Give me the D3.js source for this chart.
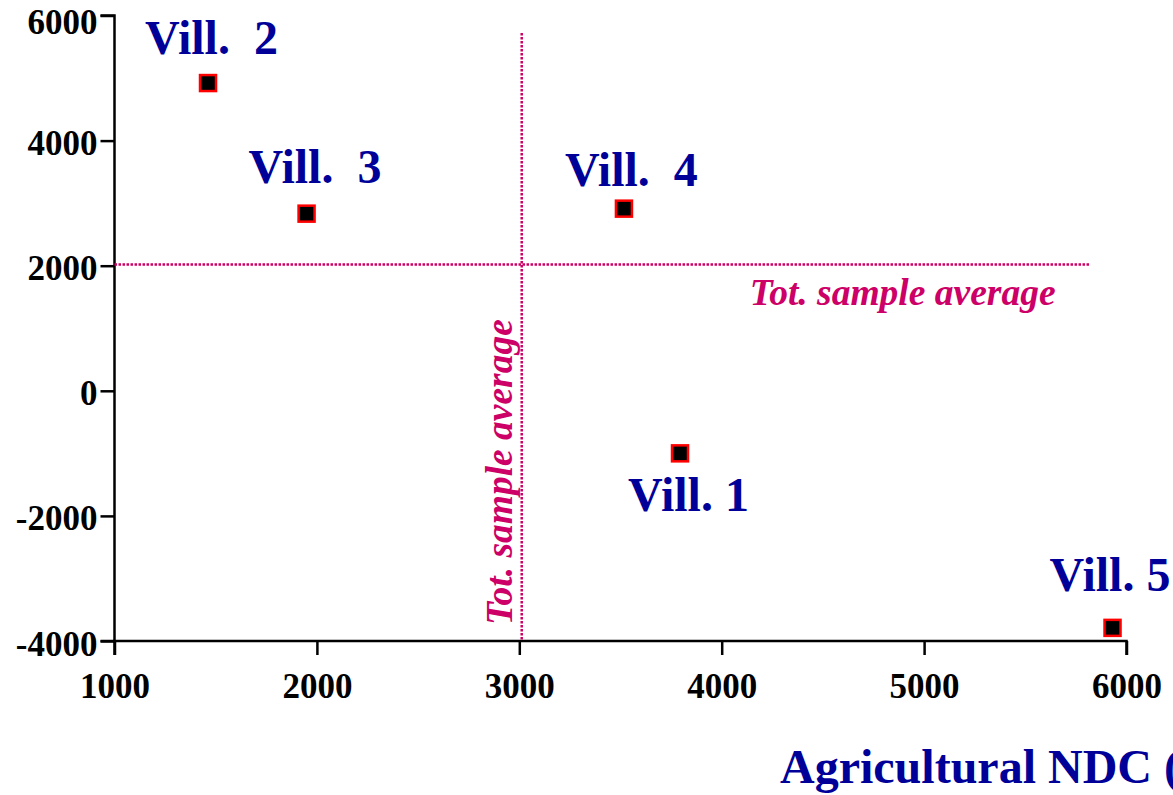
<!DOCTYPE html>
<html>
<head>
<meta charset="utf-8">
<script src="https://cdn.jsdelivr.net/npm/d3@7"></script>
<style>
  html, body { margin: 0; padding: 0; background: #fff; overflow: hidden; }
  svg { display: block; font-family: "Liberation Serif", "Times New Roman", serif; }
</style>
</head>
<body>
<svg id="chart" width="1173" height="795"></svg>
<script>
// Villages: agricultural NDC (x) against second indicator (y)
const villages = ["Vill. 1", "Vill.  2", "Vill.  3", "Vill.  4", "Vill. 5"];
const ndcValues = [3794, 1462, 1949, 3517, 5931];
const yValues = [-1000, 4920, 2832, 2912, -3790];

// Label offsets (px) relative to each marker
const labelDx = [-52, -63, -58, -59, -63];
const labelDy = [58, -29, -31, -23, -37];

// Total sample averages
const avgX = 3012;
const avgY = 2020;
const avgLabel = "Tot. sample average";

const xTicks = [1000, 2000, 3000, 4000, 5000, 6000];
const yTicks = [-4000, -2000, 0, 2000, 4000, 6000];
const xTitle = "Agricultural NDC (€)";

const svg = d3.select("#chart");
const x = d3.scaleLinear().domain([1000, 6000]).range([114.5, 1126.5]);
const y = d3.scaleLinear().domain([-4000, 6000]).range([641, 15.5]);

const blue = "#000099";
const magenta = "#cc0066";
const fmt = d => String(d); // plain hyphen for negatives

// Axes
const xAxis = svg.append("g")
  .attr("transform", `translate(0,${y(-4000)})`)
  .call(d3.axisBottom(x).tickValues(xTicks).tickFormat(fmt).tickSize(14).tickPadding(11));
const yAxis = svg.append("g")
  .attr("transform", `translate(${x(1000)},0)`)
  .call(d3.axisLeft(y).tickValues(yTicks).tickFormat(fmt).tickSize(14).tickPadding(3));

[xAxis, yAxis].forEach(g => {
  g.select(".domain").attr("stroke", "#000").attr("stroke-width", 2.5);
  g.selectAll(".tick line").attr("stroke", "#000").attr("stroke-width", 2.5);
  g.selectAll(".tick text")
    .attr("fill", "#000")
    .style("font-family", "'Liberation Serif', 'Times New Roman', serif")
    .style("font-weight", "bold")
    .style("font-size", "35px");
});
xAxis.select(".domain").attr("d", `M${x(1000)},14V0H${x(6000)}V14`);
yAxis.select(".domain").attr("d", `M-14,${y(6000)}H0V${y(-4000)}H-14`);
yAxis.selectAll(".tick text").attr("dy", d => d === 6000 ? "0.52em" : "0.4em");
xAxis.selectAll(".tick text").attr("dy", "0.9em");

// Average reference lines
svg.append("line")
  .attr("x1", x(1000)).attr("x2", x(5820))
  .attr("y1", y(avgY)).attr("y2", y(avgY))
  .attr("stroke", magenta).attr("stroke-width", 2.5)
  .attr("stroke-dasharray", "2.5,1.5");
svg.append("line")
  .attr("x1", x(avgX)).attr("x2", x(avgX))
  .attr("y1", y(5720)).attr("y2", y(-4000))
  .attr("stroke", magenta).attr("stroke-width", 2.5)
  .attr("stroke-dasharray", "2.5,1.5");

svg.append("text")
  .attr("x", x(avgX) + 228).attr("y", y(avgY) + 41)
  .attr("fill", magenta)
  .style("font-size", "37.5px").style("font-weight", "bold").style("font-style", "italic")
  .text(avgLabel);
svg.append("text")
  .attr("transform", `translate(${x(avgX) - 10},${y(-4000) - 16}) rotate(-90)`)
  .attr("fill", magenta)
  .style("font-size", "37.5px").style("font-weight", "bold").style("font-style", "italic")
  .text(avgLabel);

// Markers
const data = villages.map((name, i) => ({ name, nx: ndcValues[i], ny: yValues[i], dx: labelDx[i], dy: labelDy[i] }));
const s = 16;
svg.append("g").selectAll("rect").data(data).join("rect")
  .attr("x", d => x(d.nx) - s / 2)
  .attr("y", d => y(d.ny) - s / 2)
  .attr("width", s).attr("height", s)
  .attr("fill", "#000").attr("stroke", "#ff0000").attr("stroke-width", 2.5);

// Village labels
svg.append("g").selectAll("text").data(data).join("text")
  .attr("x", d => x(d.nx) + d.dx)
  .attr("y", d => y(d.ny) + d.dy)
  .attr("fill", blue)
  .style("font-size", "48px").style("font-weight", "bold")
  .style("white-space", "pre")
  .attr("xml:space", "preserve")
  .text(d => d.name);

// X axis title
svg.append("text")
  .attr("x", 780).attr("y", 783)
  .attr("fill", blue)
  .style("font-size", "48px").style("font-weight", "bold")
  .text(xTitle);
</script>
</body>
</html>
